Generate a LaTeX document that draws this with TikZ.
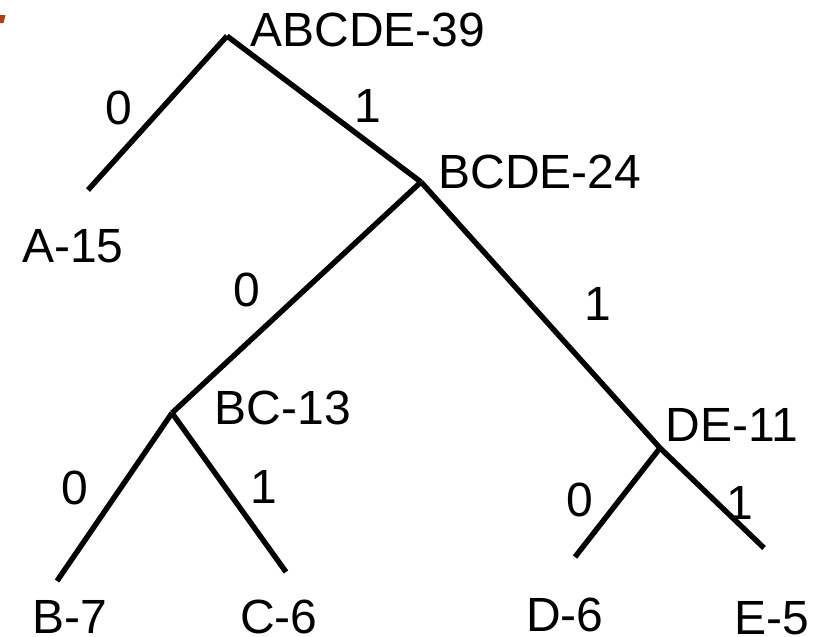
\documentclass[tikz,border=0pt]{standalone}
\usepackage{fontspec}
\setmainfont{Liberation Sans}
\begin{document}
\begin{tikzpicture}[x=1pt,y=-1pt,
  edge/.style={line width=5.4pt,line cap=butt},
  lbl/.style={inner sep=0pt,anchor=center,font=\fontsize{48}{56}\selectfont}]
\useasboundingbox (0,0) rectangle (820,637);
% orange fragment at top-left
\fill[color={rgb,255:red,176;green,64;blue,16}] (0,15) -- (5.5,15) -- (3.5,23) -- (0,23) -- cycle;
% vertices and leaf ends
\coordinate (r) at (227,36);
\coordinate (a) at (88,190);
\coordinate (bcde) at (421,182);
\coordinate (bc) at (172,413);
\coordinate (de) at (660,448);
\coordinate (b) at (57,581);
\coordinate (c) at (286,572);
\coordinate (d) at (575,557);
\coordinate (e) at (764,548);
% edges
\draw[edge] (r) -- (a);
\draw[edge] (r) -- (bcde);
\draw[edge] (bcde) -- (bc);
\draw[edge] (bcde) -- (de);
\draw[edge] (bc) -- (b);
\draw[edge] (bc) -- (c);
\draw[edge] (de) -- (d);
\draw[edge] (de) -- (e);
% node labels
\node[lbl] (tr) at (368,30) {ABCDE-39};
\node[lbl] (ta) at (73,246) {A-15};
\node[lbl] (tbcde) at (540,172) {BCDE-24};
\node[lbl] (tbc) at (283,408) {BC-13};
\node[lbl] (tde) at (732,425) {DE-11};
\node[lbl] (tb) at (70,617) {B-7};
\node[lbl] (tc) at (279,617) {C-6};
\node[lbl] (td) at (565,615) {D-6};
\node[lbl] (te) at (772,618) {E-5};
% edge bits
\node[lbl] (e1) at (119,108) {0};
\node[lbl] (e2) at (368,106) {1};
\node[lbl] (e3) at (247,290) {0};
\node[lbl] (e4) at (598,304) {1};
\node[lbl] (e5) at (75,488) {0};
\node[lbl] (e6) at (264,487) {1};
\node[lbl] (e7) at (580,500) {0};
\node[lbl] (e8) at (740,503) {1};
\end{tikzpicture}
\end{document}
